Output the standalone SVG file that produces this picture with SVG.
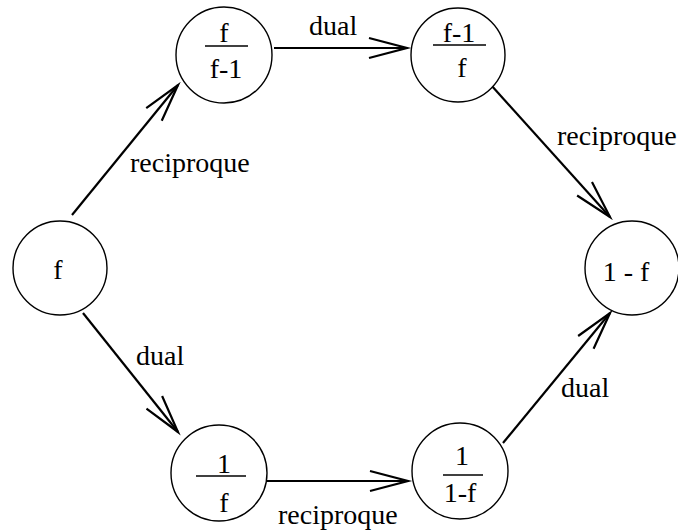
<svg xmlns="http://www.w3.org/2000/svg" width="678" height="532" viewBox="0 0 678 532">
<defs>
<style>
.node{fill:#fff;stroke:#000;stroke-width:1.4}
text{font-family:'Liberation Serif','Times New Roman',serif;font-size:28px;fill:#000}
.c{text-anchor:middle}
.fr{stroke:#000;stroke-width:1.4}
.edge{stroke:#000;stroke-width:2.2;fill:none;marker-end:url(#arr)}
</style>
<marker id="arr" markerUnits="userSpaceOnUse" viewBox="-42 -14 46 28" refX="0" refY="0" markerWidth="46" markerHeight="28" orient="auto" overflow="visible">
<path d="M-38,-10 L0,0 L-38,10" fill="none" stroke="#000" stroke-width="2.2"/>
</marker>
</defs>
<rect width="678" height="532" fill="#fff"/>
<g id="connectors">
<line class="edge" x1="72" y1="215" x2="178" y2="85"/>
<line class="edge" x1="274" y1="48" x2="407" y2="48"/>
<line class="edge" x1="491" y1="85" x2="610" y2="217"/>
<line class="edge" x1="83" y1="313" x2="178" y2="432"/>
<line class="edge" x1="266" y1="481" x2="408" y2="481"/>
<line class="edge" x1="503" y1="443" x2="610" y2="313"/>
<text x="130" y="172">reciproque</text>
<text x="309" y="35">dual</text>
<text x="557" y="145">reciproque</text>
<text x="136" y="365">dual</text>
<text x="278" y="524">reciproque</text>
<text x="561" y="397">dual</text>
</g>
<g id="n_f">
<circle class="node" cx="60" cy="268" r="47"/>
<text class="c" x="58" y="279">f</text>
</g>
<g id="n_f_over_fm1">
<circle class="node" cx="224" cy="55" r="48"/>
<text class="c" x="224" y="42">f</text>
<line class="fr" x1="205" y1="46" x2="248" y2="46"/>
<text class="c" x="226" y="78">f-1</text>
</g>
<g id="n_fm1_over_f">
<circle class="node" cx="458" cy="55" r="47"/>
<text class="c" x="459" y="42">f-1</text>
<line class="fr" x1="433" y1="45" x2="486" y2="45"/>
<text class="c" x="462" y="77">f</text>
</g>
<g id="n_1mf">
<circle class="node" cx="632" cy="268" r="47"/>
<text class="c" x="626" y="281">1 - f</text>
</g>
<g id="n_1_over_f">
<circle class="node" cx="219" cy="473" r="48"/>
<text class="c" x="224" y="473">1</text>
<line class="fr" x1="196" y1="476" x2="246" y2="476"/>
<text class="c" x="224" y="512">f</text>
</g>
<g id="n_1_over_1mf">
<circle class="node" cx="460" cy="471" r="48"/>
<text class="c" x="462" y="465">1</text>
<line class="fr" x1="443" y1="475" x2="483" y2="475"/>
<text class="c" x="460" y="502">1-f</text>
</g>
</svg>
